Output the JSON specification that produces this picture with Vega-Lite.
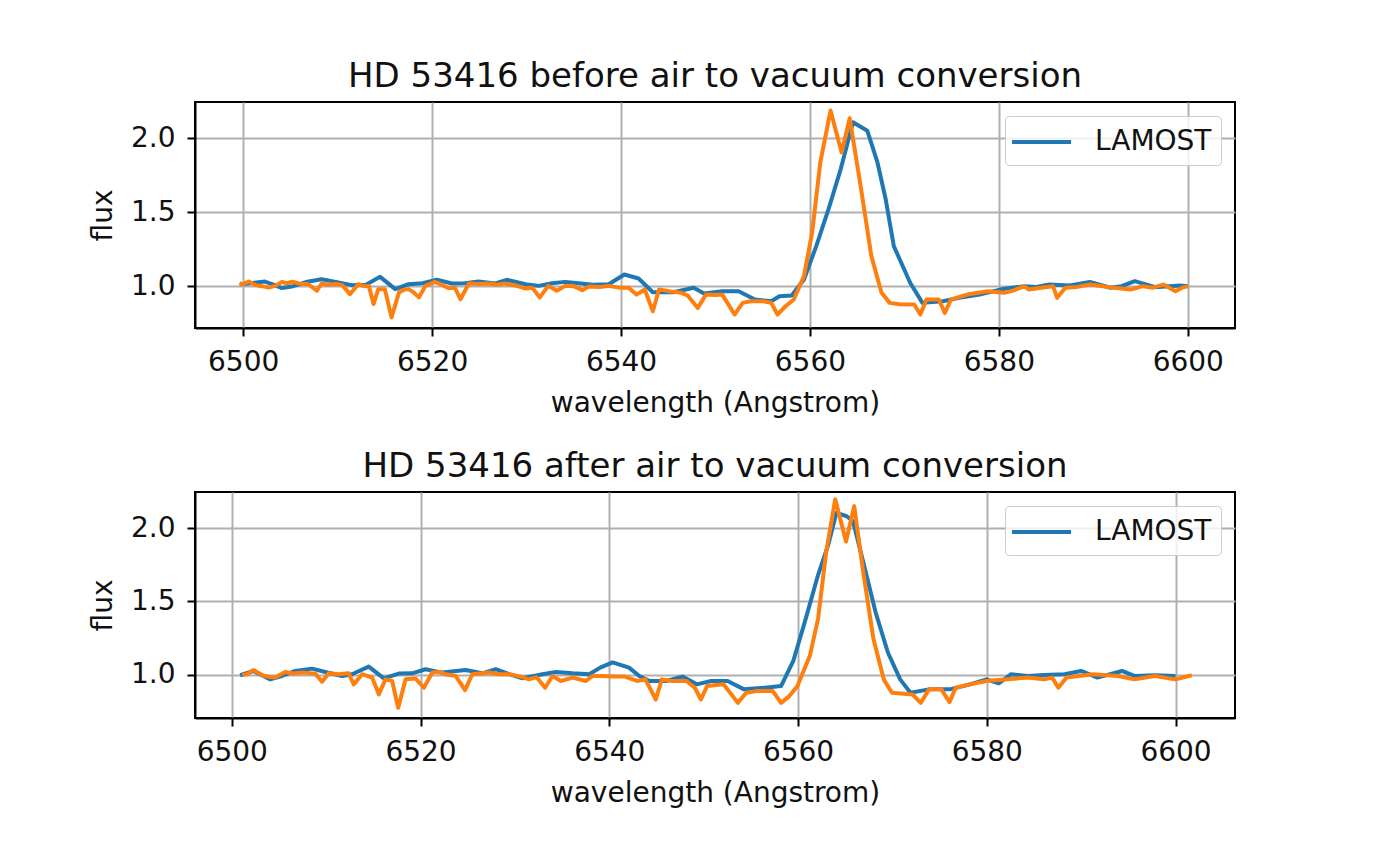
{
  "$schema": "https://vega.github.io/schema/vega-lite/v6.json",
  "background": "white",
  "padding": {"left": 88, "top": 59, "right": 10, "bottom": 10},
  "config": {
    "font": "DejaVu Sans",
    "view": {"stroke": "black", "strokeWidth": 2},
    "axis": {
      "grid": true, "gridColor": "#b0b0b0", "gridWidth": 2,
      "domainColor": "black", "domainWidth": 2,
      "tickColor": "black", "tickWidth": 2, "tickSize": 8,
      "labelFont": "DejaVu Sans", "labelFontSize": 28, "labelColor": "#111111", "labelPadding": 12,
      "titleFont": "DejaVu Sans", "titleFontSize": 28, "titleFontWeight": "normal", "titleColor": "#111111", "titlePadding": 13
    },
    "title": {"font": "DejaVu Sans", "fontSize": 34, "fontWeight": "normal", "color": "#111111", "offset": 8},
    "legend": {
      "orient": "top-right", "offset": 14, "padding": 9, "cornerRadius": 4, "labelOffset": 47,
      "strokeColor": "#cccccc", "fillColor": "rgba(255,255,255,0.8)",
      "labelFont": "DejaVu Sans", "labelFontSize": 28, "labelColor": "#111111",
      "symbolType": "M-1.27,0H2.67", "symbolStrokeWidth": 4, "symbolSize": 900, "title": null
    }
  },
  "datasets": {
    "before": [
      {"wavelength": 6499.7, "flux": 1.013, "spectrum": "LAMOST"},
      {"wavelength": 6500.8, "flux": 1.02, "spectrum": "LAMOST"},
      {"wavelength": 6502.3, "flux": 1.031, "spectrum": "LAMOST"},
      {"wavelength": 6503.2, "flux": 1.01, "spectrum": "LAMOST"},
      {"wavelength": 6504.1, "flux": 0.987, "spectrum": "LAMOST"},
      {"wavelength": 6505.3, "flux": 1.0, "spectrum": "LAMOST"},
      {"wavelength": 6506.8, "flux": 1.03, "spectrum": "LAMOST"},
      {"wavelength": 6508.3, "flux": 1.047, "spectrum": "LAMOST"},
      {"wavelength": 6509.8, "flux": 1.029, "spectrum": "LAMOST"},
      {"wavelength": 6511.5, "flux": 1.007, "spectrum": "LAMOST"},
      {"wavelength": 6513.0, "flux": 1.01, "spectrum": "LAMOST"},
      {"wavelength": 6514.5, "flux": 1.063, "spectrum": "LAMOST"},
      {"wavelength": 6516.1, "flux": 0.98, "spectrum": "LAMOST"},
      {"wavelength": 6517.5, "flux": 1.013, "spectrum": "LAMOST"},
      {"wavelength": 6519.0, "flux": 1.02, "spectrum": "LAMOST"},
      {"wavelength": 6520.5, "flux": 1.043, "spectrum": "LAMOST"},
      {"wavelength": 6522.1, "flux": 1.018, "spectrum": "LAMOST"},
      {"wavelength": 6523.5, "flux": 1.02, "spectrum": "LAMOST"},
      {"wavelength": 6524.9, "flux": 1.031, "spectrum": "LAMOST"},
      {"wavelength": 6526.7, "flux": 1.018, "spectrum": "LAMOST"},
      {"wavelength": 6527.9, "flux": 1.043, "spectrum": "LAMOST"},
      {"wavelength": 6529.9, "flux": 1.013, "spectrum": "LAMOST"},
      {"wavelength": 6531.3, "flux": 1.002, "spectrum": "LAMOST"},
      {"wavelength": 6532.7, "flux": 1.02, "spectrum": "LAMOST"},
      {"wavelength": 6534.1, "flux": 1.029, "spectrum": "LAMOST"},
      {"wavelength": 6535.5, "flux": 1.02, "spectrum": "LAMOST"},
      {"wavelength": 6537.0, "flux": 1.01, "spectrum": "LAMOST"},
      {"wavelength": 6538.7, "flux": 1.013, "spectrum": "LAMOST"},
      {"wavelength": 6540.35, "flux": 1.079, "spectrum": "LAMOST"},
      {"wavelength": 6541.86, "flux": 1.052, "spectrum": "LAMOST"},
      {"wavelength": 6543.37, "flux": 0.959, "spectrum": "LAMOST"},
      {"wavelength": 6545.53, "flux": 0.959, "spectrum": "LAMOST"},
      {"wavelength": 6547.7, "flux": 0.989, "spectrum": "LAMOST"},
      {"wavelength": 6548.78, "flux": 0.95, "spectrum": "LAMOST"},
      {"wavelength": 6550.72, "flux": 0.966, "spectrum": "LAMOST"},
      {"wavelength": 6552.45, "flux": 0.966, "spectrum": "LAMOST"},
      {"wavelength": 6554.18, "flux": 0.91, "spectrum": "LAMOST"},
      {"wavelength": 6555.91, "flux": 0.898, "spectrum": "LAMOST"},
      {"wavelength": 6556.77, "flux": 0.932, "spectrum": "LAMOST"},
      {"wavelength": 6558.07, "flux": 0.937, "spectrum": "LAMOST"},
      {"wavelength": 6559.37, "flux": 1.045, "spectrum": "LAMOST"},
      {"wavelength": 6560.67, "flux": 1.271, "spectrum": "LAMOST"},
      {"wavelength": 6561.96, "flux": 1.52, "spectrum": "LAMOST"},
      {"wavelength": 6563.26, "flux": 1.792, "spectrum": "LAMOST"},
      {"wavelength": 6564.56, "flux": 2.109, "spectrum": "LAMOST"},
      {"wavelength": 6566.07, "flux": 2.052, "spectrum": "LAMOST"},
      {"wavelength": 6567.15, "flux": 1.837, "spectrum": "LAMOST"},
      {"wavelength": 6568.02, "flux": 1.588, "spectrum": "LAMOST"},
      {"wavelength": 6568.88, "flux": 1.271, "spectrum": "LAMOST"},
      {"wavelength": 6570.61, "flux": 1.023, "spectrum": "LAMOST"},
      {"wavelength": 6571.91, "flux": 0.887, "spectrum": "LAMOST"},
      {"wavelength": 6574.07, "flux": 0.898, "spectrum": "LAMOST"},
      {"wavelength": 6575.8, "flux": 0.921, "spectrum": "LAMOST"},
      {"wavelength": 6577.96, "flux": 0.943, "spectrum": "LAMOST"},
      {"wavelength": 6580.12, "flux": 0.977, "spectrum": "LAMOST"},
      {"wavelength": 6581.4, "flux": 0.99, "spectrum": "LAMOST"},
      {"wavelength": 6582.72, "flux": 1.0, "spectrum": "LAMOST"},
      {"wavelength": 6584.0, "flux": 0.995, "spectrum": "LAMOST"},
      {"wavelength": 6585.31, "flux": 1.011, "spectrum": "LAMOST"},
      {"wavelength": 6587.5, "flux": 1.005, "spectrum": "LAMOST"},
      {"wavelength": 6589.63, "flux": 1.029, "spectrum": "LAMOST"},
      {"wavelength": 6591.8, "flux": 0.989, "spectrum": "LAMOST"},
      {"wavelength": 6593.0, "flux": 1.0, "spectrum": "LAMOST"},
      {"wavelength": 6594.39, "flux": 1.034, "spectrum": "LAMOST"},
      {"wavelength": 6596.55, "flux": 0.993, "spectrum": "LAMOST"},
      {"wavelength": 6598.0, "flux": 1.0, "spectrum": "LAMOST"},
      {"wavelength": 6599.15, "flux": 1.005, "spectrum": "LAMOST"},
      {"wavelength": 6600.01, "flux": 1.0, "spectrum": "LAMOST"},

      {"wavelength": 6499.6, "flux": 1.02, "spectrum": "comparison"},
      {"wavelength": 6499.9, "flux": 1.013, "spectrum": "comparison"},
      {"wavelength": 6500.6, "flux": 1.031, "spectrum": "comparison"},
      {"wavelength": 6501.3, "flux": 1.007, "spectrum": "comparison"},
      {"wavelength": 6502.0, "flux": 1.0, "spectrum": "comparison"},
      {"wavelength": 6502.7, "flux": 0.99, "spectrum": "comparison"},
      {"wavelength": 6503.4, "flux": 1.002, "spectrum": "comparison"},
      {"wavelength": 6504.1, "flux": 1.029, "spectrum": "comparison"},
      {"wavelength": 6504.6, "flux": 1.02, "spectrum": "comparison"},
      {"wavelength": 6505.2, "flux": 1.03, "spectrum": "comparison"},
      {"wavelength": 6505.9, "flux": 1.018, "spectrum": "comparison"},
      {"wavelength": 6506.9, "flux": 1.013, "spectrum": "comparison"},
      {"wavelength": 6507.8, "flux": 0.969, "spectrum": "comparison"},
      {"wavelength": 6508.3, "flux": 1.018, "spectrum": "comparison"},
      {"wavelength": 6509.0, "flux": 1.01, "spectrum": "comparison"},
      {"wavelength": 6509.8, "flux": 1.015, "spectrum": "comparison"},
      {"wavelength": 6510.5, "flux": 1.007, "spectrum": "comparison"},
      {"wavelength": 6511.3, "flux": 0.946, "spectrum": "comparison"},
      {"wavelength": 6512.2, "flux": 1.013, "spectrum": "comparison"},
      {"wavelength": 6512.8, "flux": 1.0, "spectrum": "comparison"},
      {"wavelength": 6513.3, "flux": 1.002, "spectrum": "comparison"},
      {"wavelength": 6513.8, "flux": 0.879, "spectrum": "comparison"},
      {"wavelength": 6514.3, "flux": 0.98, "spectrum": "comparison"},
      {"wavelength": 6515.0, "flux": 0.98, "spectrum": "comparison"},
      {"wavelength": 6515.7, "flux": 0.789, "spectrum": "comparison"},
      {"wavelength": 6516.5, "flux": 0.958, "spectrum": "comparison"},
      {"wavelength": 6517.0, "flux": 0.975, "spectrum": "comparison"},
      {"wavelength": 6517.5, "flux": 0.98, "spectrum": "comparison"},
      {"wavelength": 6518.0, "flux": 0.96, "spectrum": "comparison"},
      {"wavelength": 6518.6, "flux": 0.924, "spectrum": "comparison"},
      {"wavelength": 6519.3, "flux": 1.002, "spectrum": "comparison"},
      {"wavelength": 6520.3, "flux": 1.029, "spectrum": "comparison"},
      {"wavelength": 6521.0, "flux": 1.01, "spectrum": "comparison"},
      {"wavelength": 6521.7, "flux": 0.987, "spectrum": "comparison"},
      {"wavelength": 6522.4, "flux": 0.99, "spectrum": "comparison"},
      {"wavelength": 6523.0, "flux": 0.912, "spectrum": "comparison"},
      {"wavelength": 6523.9, "flux": 1.018, "spectrum": "comparison"},
      {"wavelength": 6525.0, "flux": 1.015, "spectrum": "comparison"},
      {"wavelength": 6526.0, "flux": 1.018, "spectrum": "comparison"},
      {"wavelength": 6526.8, "flux": 1.01, "spectrum": "comparison"},
      {"wavelength": 6527.7, "flux": 1.018, "spectrum": "comparison"},
      {"wavelength": 6528.8, "flux": 1.005, "spectrum": "comparison"},
      {"wavelength": 6529.9, "flux": 0.984, "spectrum": "comparison"},
      {"wavelength": 6530.6, "flux": 0.99, "spectrum": "comparison"},
      {"wavelength": 6531.4, "flux": 0.924, "spectrum": "comparison"},
      {"wavelength": 6532.3, "flux": 1.002, "spectrum": "comparison"},
      {"wavelength": 6533.2, "flux": 0.969, "spectrum": "comparison"},
      {"wavelength": 6534.1, "flux": 1.002, "spectrum": "comparison"},
      {"wavelength": 6535.0, "flux": 1.0, "spectrum": "comparison"},
      {"wavelength": 6535.9, "flux": 0.973, "spectrum": "comparison"},
      {"wavelength": 6536.6, "flux": 0.998, "spectrum": "comparison"},
      {"wavelength": 6537.75, "flux": 0.995, "spectrum": "comparison"},
      {"wavelength": 6538.7, "flux": 1.002, "spectrum": "comparison"},
      {"wavelength": 6539.91, "flux": 0.989, "spectrum": "comparison"},
      {"wavelength": 6540.8, "flux": 0.99, "spectrum": "comparison"},
      {"wavelength": 6541.64, "flux": 0.943, "spectrum": "comparison"},
      {"wavelength": 6542.51, "flux": 0.977, "spectrum": "comparison"},
      {"wavelength": 6543.37, "flux": 0.83, "spectrum": "comparison"},
      {"wavelength": 6544.02, "flux": 0.977, "spectrum": "comparison"},
      {"wavelength": 6545.1, "flux": 0.966, "spectrum": "comparison"},
      {"wavelength": 6546.4, "flux": 0.955, "spectrum": "comparison"},
      {"wavelength": 6547.05, "flux": 0.937, "spectrum": "comparison"},
      {"wavelength": 6548.13, "flux": 0.853, "spectrum": "comparison"},
      {"wavelength": 6548.99, "flux": 0.943, "spectrum": "comparison"},
      {"wavelength": 6550.0, "flux": 0.94, "spectrum": "comparison"},
      {"wavelength": 6550.72, "flux": 0.943, "spectrum": "comparison"},
      {"wavelength": 6552.02, "flux": 0.808, "spectrum": "comparison"},
      {"wavelength": 6552.88, "flux": 0.887, "spectrum": "comparison"},
      {"wavelength": 6553.75, "flux": 0.898, "spectrum": "comparison"},
      {"wavelength": 6555.05, "flux": 0.898, "spectrum": "comparison"},
      {"wavelength": 6555.91, "flux": 0.887, "spectrum": "comparison"},
      {"wavelength": 6556.56, "flux": 0.808, "spectrum": "comparison"},
      {"wavelength": 6557.42, "flux": 0.864, "spectrum": "comparison"},
      {"wavelength": 6558.29, "flux": 0.91, "spectrum": "comparison"},
      {"wavelength": 6559.37, "flux": 1.068, "spectrum": "comparison"},
      {"wavelength": 6560.23, "flux": 1.362, "spectrum": "comparison"},
      {"wavelength": 6561.1, "flux": 1.837, "spectrum": "comparison"},
      {"wavelength": 6562.18, "flux": 2.188, "spectrum": "comparison"},
      {"wavelength": 6563.35, "flux": 1.905, "spectrum": "comparison"},
      {"wavelength": 6564.21, "flux": 2.136, "spectrum": "comparison"},
      {"wavelength": 6565.42, "flux": 1.656, "spectrum": "comparison"},
      {"wavelength": 6566.5, "flux": 1.204, "spectrum": "comparison"},
      {"wavelength": 6567.58, "flux": 0.955, "spectrum": "comparison"},
      {"wavelength": 6568.45, "flux": 0.887, "spectrum": "comparison"},
      {"wavelength": 6569.5, "flux": 0.878, "spectrum": "comparison"},
      {"wavelength": 6571.04, "flux": 0.876, "spectrum": "comparison"},
      {"wavelength": 6571.69, "flux": 0.808, "spectrum": "comparison"},
      {"wavelength": 6572.34, "flux": 0.91, "spectrum": "comparison"},
      {"wavelength": 6573.64, "flux": 0.91, "spectrum": "comparison"},
      {"wavelength": 6574.28, "flux": 0.819, "spectrum": "comparison"},
      {"wavelength": 6574.93, "flux": 0.91, "spectrum": "comparison"},
      {"wavelength": 6576.66, "flux": 0.943, "spectrum": "comparison"},
      {"wavelength": 6578.82, "flux": 0.966, "spectrum": "comparison"},
      {"wavelength": 6580.55, "flux": 0.955, "spectrum": "comparison"},
      {"wavelength": 6581.5, "flux": 0.97, "spectrum": "comparison"},
      {"wavelength": 6582.72, "flux": 1.0, "spectrum": "comparison"},
      {"wavelength": 6583.15, "flux": 0.977, "spectrum": "comparison"},
      {"wavelength": 6584.5, "flux": 0.99, "spectrum": "comparison"},
      {"wavelength": 6585.74, "flux": 1.0, "spectrum": "comparison"},
      {"wavelength": 6586.17, "flux": 0.921, "spectrum": "comparison"},
      {"wavelength": 6587.04, "flux": 0.989, "spectrum": "comparison"},
      {"wavelength": 6588.3, "flux": 0.995, "spectrum": "comparison"},
      {"wavelength": 6589.63, "flux": 1.011, "spectrum": "comparison"},
      {"wavelength": 6591.0, "flux": 1.0, "spectrum": "comparison"},
      {"wavelength": 6592.23, "flux": 0.989, "spectrum": "comparison"},
      {"wavelength": 6593.96, "flux": 0.977, "spectrum": "comparison"},
      {"wavelength": 6595.25, "flux": 1.0, "spectrum": "comparison"},
      {"wavelength": 6596.3, "flux": 0.99, "spectrum": "comparison"},
      {"wavelength": 6597.41, "flux": 1.011, "spectrum": "comparison"},
      {"wavelength": 6598.71, "flux": 0.966, "spectrum": "comparison"},
      {"wavelength": 6599.4, "flux": 0.99, "spectrum": "comparison"},
      {"wavelength": 6600.01, "flux": 1.0, "spectrum": "comparison"}
    ],
    "after": [
      {"wavelength": 6500.88, "flux": 0.998, "spectrum": "LAMOST"},
      {"wavelength": 6502.3, "flux": 1.027, "spectrum": "LAMOST"},
      {"wavelength": 6504.07, "flux": 0.97, "spectrum": "LAMOST"},
      {"wavelength": 6505.31, "flux": 0.993, "spectrum": "LAMOST"},
      {"wavelength": 6506.73, "flux": 1.027, "spectrum": "LAMOST"},
      {"wavelength": 6508.5, "flux": 1.043, "spectrum": "LAMOST"},
      {"wavelength": 6509.91, "flux": 1.02, "spectrum": "LAMOST"},
      {"wavelength": 6511.68, "flux": 0.993, "spectrum": "LAMOST"},
      {"wavelength": 6512.74, "flux": 1.005, "spectrum": "LAMOST"},
      {"wavelength": 6514.51, "flux": 1.057, "spectrum": "LAMOST"},
      {"wavelength": 6516.11, "flux": 0.977, "spectrum": "LAMOST"},
      {"wavelength": 6517.7, "flux": 1.009, "spectrum": "LAMOST"},
      {"wavelength": 6519.12, "flux": 1.011, "spectrum": "LAMOST"},
      {"wavelength": 6520.53, "flux": 1.039, "spectrum": "LAMOST"},
      {"wavelength": 6522.3, "flux": 1.016, "spectrum": "LAMOST"},
      {"wavelength": 6524.78, "flux": 1.034, "spectrum": "LAMOST"},
      {"wavelength": 6526.55, "flux": 1.011, "spectrum": "LAMOST"},
      {"wavelength": 6527.96, "flux": 1.039, "spectrum": "LAMOST"},
      {"wavelength": 6529.38, "flux": 1.005, "spectrum": "LAMOST"},
      {"wavelength": 6530.8, "flux": 0.977, "spectrum": "LAMOST"},
      {"wavelength": 6532.92, "flux": 1.005, "spectrum": "LAMOST"},
      {"wavelength": 6534.34, "flux": 1.02, "spectrum": "LAMOST"},
      {"wavelength": 6536.11, "flux": 1.011, "spectrum": "LAMOST"},
      {"wavelength": 6537.88, "flux": 1.005, "spectrum": "LAMOST"},
      {"wavelength": 6539.04, "flux": 1.05, "spectrum": "LAMOST"},
      {"wavelength": 6540.35, "flux": 1.085, "spectrum": "LAMOST"},
      {"wavelength": 6542.09, "flux": 1.05, "spectrum": "LAMOST"},
      {"wavelength": 6543.18, "flux": 0.993, "spectrum": "LAMOST"},
      {"wavelength": 6544.27, "flux": 0.959, "spectrum": "LAMOST"},
      {"wavelength": 6546.01, "flux": 0.959, "spectrum": "LAMOST"},
      {"wavelength": 6547.75, "flux": 0.989, "spectrum": "LAMOST"},
      {"wavelength": 6549.27, "flux": 0.936, "spectrum": "LAMOST"},
      {"wavelength": 6550.8, "flux": 0.959, "spectrum": "LAMOST"},
      {"wavelength": 6552.54, "flux": 0.959, "spectrum": "LAMOST"},
      {"wavelength": 6554.28, "flux": 0.902, "spectrum": "LAMOST"},
      {"wavelength": 6556.46, "flux": 0.913, "spectrum": "LAMOST"},
      {"wavelength": 6558.2, "flux": 0.924, "spectrum": "LAMOST"},
      {"wavelength": 6559.5, "flux": 1.096, "spectrum": "LAMOST"},
      {"wavelength": 6560.81, "flux": 1.382, "spectrum": "LAMOST"},
      {"wavelength": 6562.12, "flux": 1.68, "spectrum": "LAMOST"},
      {"wavelength": 6563.2, "flux": 1.886, "spectrum": "LAMOST"},
      {"wavelength": 6564.07, "flux": 2.103, "spectrum": "LAMOST"},
      {"wavelength": 6565.16, "flux": 2.08, "spectrum": "LAMOST"},
      {"wavelength": 6565.82, "flux": 2.046, "spectrum": "LAMOST"},
      {"wavelength": 6566.9, "flux": 1.771, "spectrum": "LAMOST"},
      {"wavelength": 6568.21, "flux": 1.428, "spectrum": "LAMOST"},
      {"wavelength": 6569.52, "flux": 1.153, "spectrum": "LAMOST"},
      {"wavelength": 6570.82, "flux": 0.97, "spectrum": "LAMOST"},
      {"wavelength": 6571.91, "flux": 0.879, "spectrum": "LAMOST"},
      {"wavelength": 6573.87, "flux": 0.902, "spectrum": "LAMOST"},
      {"wavelength": 6576.05, "flux": 0.902, "spectrum": "LAMOST"},
      {"wavelength": 6578.22, "flux": 0.936, "spectrum": "LAMOST"},
      {"wavelength": 6579.97, "flux": 0.97, "spectrum": "LAMOST"},
      {"wavelength": 6581.27, "flux": 0.943, "spectrum": "LAMOST"},
      {"wavelength": 6582.58, "flux": 1.005, "spectrum": "LAMOST"},
      {"wavelength": 6584.32, "flux": 0.993, "spectrum": "LAMOST"},
      {"wavelength": 6586.06, "flux": 1.0, "spectrum": "LAMOST"},
      {"wavelength": 6588.24, "flux": 1.005, "spectrum": "LAMOST"},
      {"wavelength": 6589.98, "flux": 1.027, "spectrum": "LAMOST"},
      {"wavelength": 6591.72, "flux": 0.982, "spectrum": "LAMOST"},
      {"wavelength": 6594.33, "flux": 1.027, "spectrum": "LAMOST"},
      {"wavelength": 6595.64, "flux": 0.993, "spectrum": "LAMOST"},
      {"wavelength": 6597.82, "flux": 0.998, "spectrum": "LAMOST"},
      {"wavelength": 6600.0, "flux": 0.993, "spectrum": "LAMOST"},

      {"wavelength": 6501.1, "flux": 1.0, "spectrum": "comparison"},
      {"wavelength": 6501.6, "flux": 1.005, "spectrum": "comparison"},
      {"wavelength": 6502.3, "flux": 1.034, "spectrum": "comparison"},
      {"wavelength": 6503.36, "flux": 0.993, "spectrum": "comparison"},
      {"wavelength": 6504.6, "flux": 0.982, "spectrum": "comparison"},
      {"wavelength": 6505.66, "flux": 1.02, "spectrum": "comparison"},
      {"wavelength": 6506.5, "flux": 1.01, "spectrum": "comparison"},
      {"wavelength": 6507.43, "flux": 1.016, "spectrum": "comparison"},
      {"wavelength": 6508.85, "flux": 1.009, "spectrum": "comparison"},
      {"wavelength": 6509.56, "flux": 0.954, "spectrum": "comparison"},
      {"wavelength": 6510.27, "flux": 1.011, "spectrum": "comparison"},
      {"wavelength": 6511.3, "flux": 1.005, "spectrum": "comparison"},
      {"wavelength": 6512.39, "flux": 1.011, "spectrum": "comparison"},
      {"wavelength": 6512.92, "flux": 0.936, "spectrum": "comparison"},
      {"wavelength": 6513.81, "flux": 1.005, "spectrum": "comparison"},
      {"wavelength": 6514.87, "flux": 0.982, "spectrum": "comparison"},
      {"wavelength": 6515.58, "flux": 0.868, "spectrum": "comparison"},
      {"wavelength": 6516.28, "flux": 0.97, "spectrum": "comparison"},
      {"wavelength": 6516.99, "flux": 0.959, "spectrum": "comparison"},
      {"wavelength": 6517.63, "flux": 0.777, "spectrum": "comparison"},
      {"wavelength": 6518.41, "flux": 0.97, "spectrum": "comparison"},
      {"wavelength": 6519.47, "flux": 0.975, "spectrum": "comparison"},
      {"wavelength": 6520.35, "flux": 0.913, "spectrum": "comparison"},
      {"wavelength": 6521.24, "flux": 1.016, "spectrum": "comparison"},
      {"wavelength": 6522.0, "flux": 1.02, "spectrum": "comparison"},
      {"wavelength": 6522.65, "flux": 1.005, "spectrum": "comparison"},
      {"wavelength": 6523.72, "flux": 0.993, "spectrum": "comparison"},
      {"wavelength": 6524.71, "flux": 0.897, "spectrum": "comparison"},
      {"wavelength": 6525.49, "flux": 1.005, "spectrum": "comparison"},
      {"wavelength": 6527.26, "flux": 1.016, "spectrum": "comparison"},
      {"wavelength": 6528.3, "flux": 1.005, "spectrum": "comparison"},
      {"wavelength": 6529.38, "flux": 1.005, "spectrum": "comparison"},
      {"wavelength": 6530.5, "flux": 0.99, "spectrum": "comparison"},
      {"wavelength": 6531.5, "flux": 0.97, "spectrum": "comparison"},
      {"wavelength": 6532.3, "flux": 0.985, "spectrum": "comparison"},
      {"wavelength": 6533.2, "flux": 0.913, "spectrum": "comparison"},
      {"wavelength": 6533.98, "flux": 0.993, "spectrum": "comparison"},
      {"wavelength": 6534.87, "flux": 0.959, "spectrum": "comparison"},
      {"wavelength": 6536.11, "flux": 0.982, "spectrum": "comparison"},
      {"wavelength": 6537.52, "flux": 0.959, "spectrum": "comparison"},
      {"wavelength": 6538.23, "flux": 0.993, "spectrum": "comparison"},
      {"wavelength": 6539.04, "flux": 0.993, "spectrum": "comparison"},
      {"wavelength": 6540.5, "flux": 0.99, "spectrum": "comparison"},
      {"wavelength": 6541.65, "flux": 0.989, "spectrum": "comparison"},
      {"wavelength": 6542.96, "flux": 0.959, "spectrum": "comparison"},
      {"wavelength": 6543.83, "flux": 0.97, "spectrum": "comparison"},
      {"wavelength": 6544.92, "flux": 0.833, "spectrum": "comparison"},
      {"wavelength": 6545.57, "flux": 0.97, "spectrum": "comparison"},
      {"wavelength": 6546.66, "flux": 0.959, "spectrum": "comparison"},
      {"wavelength": 6548.18, "flux": 0.959, "spectrum": "comparison"},
      {"wavelength": 6549.06, "flux": 0.913, "spectrum": "comparison"},
      {"wavelength": 6549.71, "flux": 0.833, "spectrum": "comparison"},
      {"wavelength": 6550.36, "flux": 0.924, "spectrum": "comparison"},
      {"wavelength": 6552.1, "flux": 0.936, "spectrum": "comparison"},
      {"wavelength": 6553.63, "flux": 0.81, "spectrum": "comparison"},
      {"wavelength": 6554.5, "flux": 0.879, "spectrum": "comparison"},
      {"wavelength": 6555.59, "flux": 0.89, "spectrum": "comparison"},
      {"wavelength": 6557.33, "flux": 0.89, "spectrum": "comparison"},
      {"wavelength": 6558.2, "flux": 0.81, "spectrum": "comparison"},
      {"wavelength": 6559.07, "flux": 0.856, "spectrum": "comparison"},
      {"wavelength": 6559.94, "flux": 0.924, "spectrum": "comparison"},
      {"wavelength": 6561.25, "flux": 1.13, "spectrum": "comparison"},
      {"wavelength": 6562.12, "flux": 1.382, "spectrum": "comparison"},
      {"wavelength": 6562.99, "flux": 1.84, "spectrum": "comparison"},
      {"wavelength": 6563.94, "flux": 2.195, "spectrum": "comparison"},
      {"wavelength": 6565.08, "flux": 1.908, "spectrum": "comparison"},
      {"wavelength": 6565.95, "flux": 2.149, "spectrum": "comparison"},
      {"wavelength": 6566.9, "flux": 1.703, "spectrum": "comparison"},
      {"wavelength": 6567.99, "flux": 1.245, "spectrum": "comparison"},
      {"wavelength": 6569.08, "flux": 0.97, "spectrum": "comparison"},
      {"wavelength": 6569.95, "flux": 0.879, "spectrum": "comparison"},
      {"wavelength": 6572.13, "flux": 0.867, "spectrum": "comparison"},
      {"wavelength": 6573.0, "flux": 0.81, "spectrum": "comparison"},
      {"wavelength": 6573.87, "flux": 0.902, "spectrum": "comparison"},
      {"wavelength": 6575.18, "flux": 0.902, "spectrum": "comparison"},
      {"wavelength": 6576.05, "flux": 0.815, "spectrum": "comparison"},
      {"wavelength": 6576.7, "flux": 0.913, "spectrum": "comparison"},
      {"wavelength": 6578.22, "flux": 0.936, "spectrum": "comparison"},
      {"wavelength": 6579.97, "flux": 0.959, "spectrum": "comparison"},
      {"wavelength": 6582.14, "flux": 0.97, "spectrum": "comparison"},
      {"wavelength": 6584.32, "flux": 0.982, "spectrum": "comparison"},
      {"wavelength": 6586.06, "flux": 0.97, "spectrum": "comparison"},
      {"wavelength": 6586.93, "flux": 0.982, "spectrum": "comparison"},
      {"wavelength": 6587.58, "flux": 0.913, "spectrum": "comparison"},
      {"wavelength": 6588.45, "flux": 0.982, "spectrum": "comparison"},
      {"wavelength": 6591.28, "flux": 1.005, "spectrum": "comparison"},
      {"wavelength": 6593.9, "flux": 0.993, "spectrum": "comparison"},
      {"wavelength": 6595.64, "flux": 0.97, "spectrum": "comparison"},
      {"wavelength": 6597.82, "flux": 0.993, "spectrum": "comparison"},
      {"wavelength": 6599.99, "flux": 0.97, "spectrum": "comparison"},
      {"wavelength": 6601.73, "flux": 0.998, "spectrum": "comparison"}
    ]
  },
  "vconcat": [
    {
      "title": "HD 53416 before air to vacuum conversion",
      "width": 1040,
      "height": 226,
      "data": {"name": "before"},
      "mark": {"type": "line", "strokeWidth": 4, "strokeJoin": "round", "clip": true},
      "encoding": {
        "x": {"field": "wavelength", "type": "quantitative",
              "scale": {"domain": [6494.9, 6605.0], "nice": false, "zero": false},
              "axis": {"values": [6500, 6520, 6540, 6560, 6580, 6600], "format": "d", "title": "wavelength (Angstrom)"}},
        "y": {"field": "flux", "type": "quantitative",
              "scale": {"domain": [0.717, 2.246], "nice": false, "zero": false},
              "axis": {"values": [1.0, 1.5, 2.0], "format": ".1f", "title": "flux"}},
        "color": {"field": "spectrum", "type": "nominal",
                  "scale": {"domain": ["LAMOST", "comparison"], "range": ["#1f77b4", "#ff7f0e"]},
                  "legend": {"values": ["LAMOST"]}}
      }
    },
    {
      "title": "HD 53416 after air to vacuum conversion",
      "width": 1040,
      "height": 226,
      "data": {"name": "after"},
      "mark": {"type": "line", "strokeWidth": 4, "strokeJoin": "round", "clip": true},
      "encoding": {
        "x": {"field": "wavelength", "type": "quantitative",
              "scale": {"domain": [6496.1, 6606.3], "nice": false, "zero": false},
              "axis": {"values": [6500, 6520, 6540, 6560, 6580, 6600], "format": "d", "title": "wavelength (Angstrom)"}},
        "y": {"field": "flux", "type": "quantitative",
              "scale": {"domain": [0.707, 2.245], "nice": false, "zero": false},
              "axis": {"values": [1.0, 1.5, 2.0], "format": ".1f", "title": "flux"}},
        "color": {"field": "spectrum", "type": "nominal",
                  "scale": {"domain": ["LAMOST", "comparison"], "range": ["#1f77b4", "#ff7f0e"]},
                  "legend": {"values": ["LAMOST"]}}
      }
    }
  ],
  "spacing": 31,
  "resolve": {
    "scale": {"x": "independent", "y": "independent", "color": "independent"},
    "legend": {"color": "independent"}
  }
}
